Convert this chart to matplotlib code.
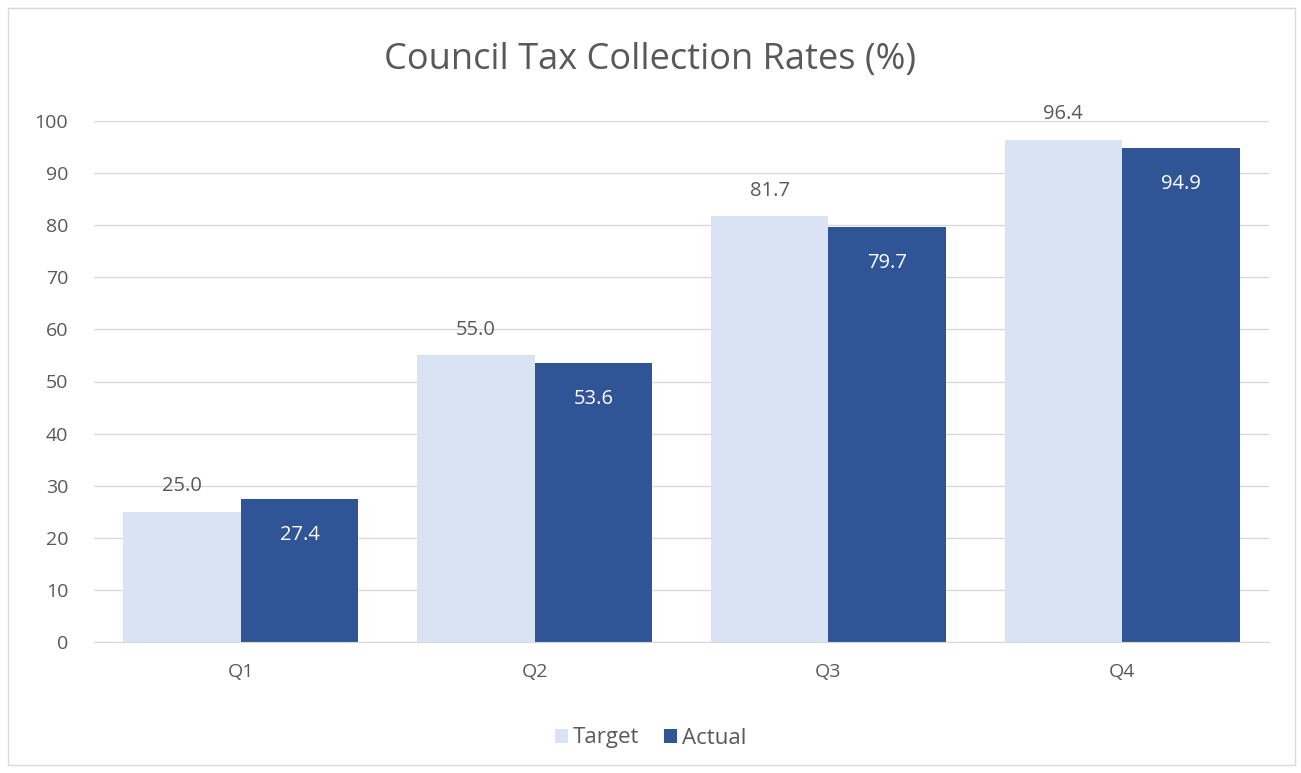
import matplotlib
matplotlib.use('Agg')
import matplotlib.pyplot as plt
import numpy as np
from matplotlib.patches import Rectangle

plt.rcParams['font.family'] = ['Open Sans', 'DejaVu Sans']

# data
quarters = ['Q1', 'Q2', 'Q3', 'Q4']
target = [25.0, 55.0, 81.7, 96.4]
actual = [27.4, 53.6, 79.7, 94.9]
yticks = [0, 10, 20, 30, 40, 50, 60, 70, 80, 90, 100]

c_target = '#DAE3F3'
c_actual = '#2F5597'
txt = '#595959'

fig = plt.figure(figsize=(13.01, 7.73), dpi=100)
fig.patches.append(Rectangle((8/1301, 1-765/773), 1287/1301, 757/773,
                             transform=fig.transFigure, fill=False,
                             edgecolor='#D9D9D9', linewidth=1))
ax = fig.add_axes([94/1301, 1-642/773, 1175/1301, 521/773])

x = np.arange(len(quarters))
w = 0.4
b1 = ax.bar(x - w/2, target, w, color=c_target, label='Target', zorder=2)
b2 = ax.bar(x + w/2, actual, w, color=c_actual, label='Actual', zorder=2)

# labels: target above the bar, actual inside the top
for r, v in zip(b1, target):
    ax.text(r.get_x() + r.get_width()/2, v + 4.0, '%.1f' % v, ha='center',
            va='baseline', fontsize=14.5, color=txt)
for r, v in zip(b2, actual):
    ax.text(r.get_x() + r.get_width()/2, v - 7.9, '%.1f' % v, ha='center',
            va='baseline', fontsize=14.5, color='white')

ax.set_xlim(-0.5, 3.5)
ax.set_ylim(0, 100)
ax.set_yticks(yticks)
ax.set_xticks(x)
ax.set_xticklabels(quarters)
ax.yaxis.grid(True, color='#D9D9D9', linewidth=1, zorder=0)
ax.set_axisbelow(True)
for s in ['top', 'right', 'left']:
    ax.spines[s].set_visible(False)
ax.spines['bottom'].set_color('#D9D9D9')
ax.tick_params(axis='both', length=0, labelsize=14, labelcolor=txt)
ax.tick_params(axis='y', pad=18.5)
ax.tick_params(axis='x', pad=15)

fig.text(0.5, 1-69/773, 'Council Tax Collection Rates (%)', ha='center',
         va='baseline', fontsize=26, color=txt)

fig.legend(loc='center', bbox_to_anchor=(0.5, 1-738/773), ncol=2,
           frameon=False, fontsize=16, labelcolor=txt, handlelength=0.6,
           handleheight=0.6, handletextpad=0.2, columnspacing=1.1)

plt.savefig('out.png', dpi=100)
